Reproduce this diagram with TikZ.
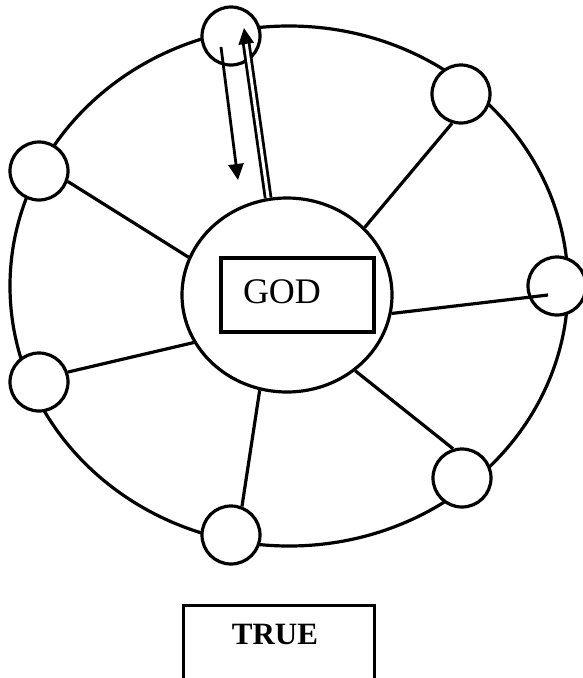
\documentclass[tikz,border=0pt]{standalone}
\usepackage{fontspec}
\setmainfont{Liberation Serif}
\usetikzlibrary{arrows.meta,shapes.geometric}
\tikzset{
  ring/.style={line width=3.2pt},
  seat/.style={circle, draw, line width=3.2pt, fill=white, minimum size=58pt, inner sep=0pt},
  core/.style={ellipse, draw, line width=3.2pt, fill=white, minimum width=210pt, minimum height=194pt, inner sep=0pt},
  namebox/.style={rectangle, draw, line width=3.2pt, minimum width=153pt, minimum height=74pt, inner sep=0pt},
  spoke/.style={line width=3.2pt},
  flow/.style={line width=2.8pt, -{Triangle[length=16pt,width=15pt]}}
}
\begin{document}
\begin{tikzpicture}[x=1pt,y=-1pt]
                \useasboundingbox (0,0) rectangle (583,678);
                \draw [ring] (289,286) ellipse (279pt and 260pt);
                \node [core] (core) at (287,295) {};
                \node [namebox] (godbox) at (297.5,295) {};
                \node (god) at (282,292) {\fontsize{36}{40}\selectfont GOD};
                \node [seat] (top) at (231,36) {};
                \node [seat] (topright) at (461,94) {};
                \node [seat] (right) at (557,286) {};
                \node [seat] (botright) at (462,478) {};
                \node [seat] (bottom) at (231,535) {};
                \node [seat] (botleft) at (39,382) {};
                \node [seat] (topleft) at (39,171) {};
                \draw [spoke] (core.159) -- (topleft.-20);
                \draw [spoke] (core.207) -- (botleft.19);
                \draw [spoke] (core.254) -- (bottom.69);
                \draw [spoke] (core.-48) -- (botright.107);
                \draw [spoke] (core.41) -- (topright.253);
                \coordinate (rightend) at (548,295);
                \draw [spoke] (core.-10) -- (rightend);
                \coordinate (uptip) at (244,28);
                \coordinate (downstart) at (221,47);
                \coordinate (downtip) at (238,180);
                \draw [flow, double, double distance=3pt] (core.101) -- (uptip);
                \draw [flow] (downstart) -- (downtip);
                \node [rectangle, draw, line width=3.2pt, minimum width=191pt, minimum height=120pt, anchor=north] (truebox) at (279,603.5) {};
                \node (truetext) at (275,634) {\fontsize{31}{36}\selectfont\bfseries TRUE};
            \end{tikzpicture}
\end{document}
